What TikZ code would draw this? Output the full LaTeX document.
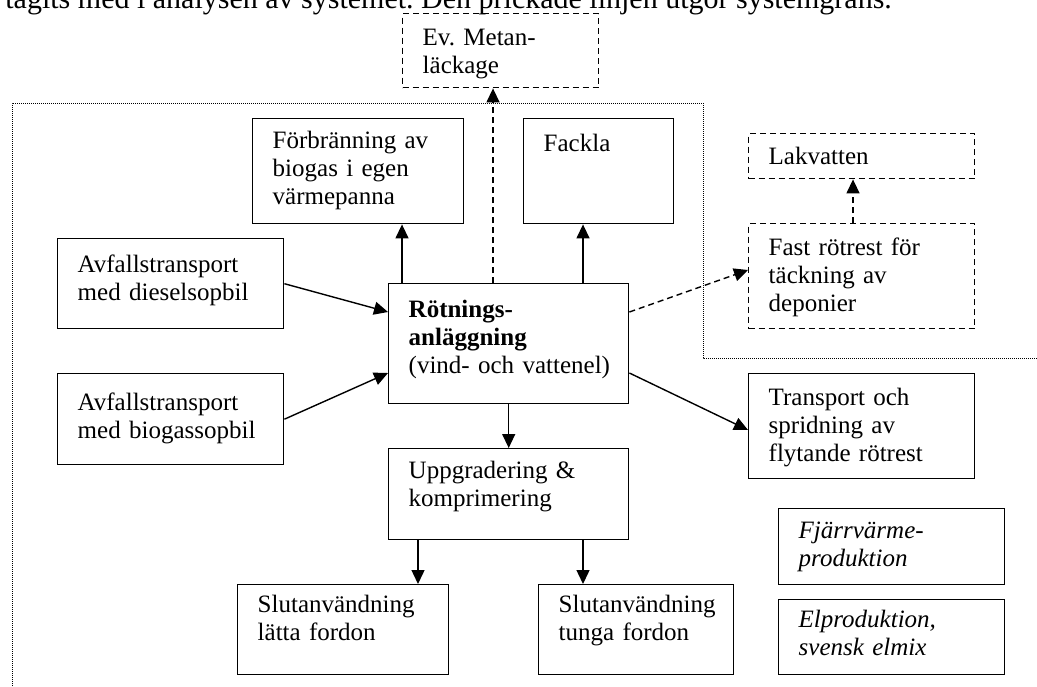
\documentclass[tikz,border=0pt]{standalone}
\usepackage{fontspec}
\setmainfont{Liberation Serif}
\usetikzlibrary{arrows.meta}
\frenchspacing
\tikzset{
  box/.style={draw, line width=0.7pt, anchor=north west, align=left,
    inner xsep=10pt, inner ysep=0pt, text height=15pt,
    font=\fontsize{12.5}{14}\selectfont},
  dbox/.style={box, dash pattern=on 3pt off 2pt},
  pil/.style={-{Triangle[length=7pt,width=6.5pt]}, line width=0.7pt},
  dpil/.style={pil, dash pattern=on 3pt off 2pt},
}
\begin{document}
\begin{tikzpicture}[x=0.5pt,y=-0.5pt]
  \useasboundingbox (0,0) rectangle (1037,686);
  \clip (0,0) rectangle (1037,686);
  \node[anchor=base west, inner sep=0, font=\fontsize{15}{18}\selectfont] (rubrik) at (5,8)
    {tagits med i analysen av systemet. Den prickade linjen utgör systemgräns.};
  \draw[line width=0.5pt, dash pattern=on 0.5pt off 0.5pt]
    (12,690) -- (12,103) -- (703,103) -- (703,358) -- (1040,358);

  \node[dbox, text width=78pt, text height=16pt, text depth=21pt] (metan) at (402,13) {Ev. Metan-\\läckage};
  \node[box, text width=85.5pt, text depth=37.5pt] (forbr) at (252,118) {Förbränning av\\biogas i egen\\värmepanna};
  \node[box, text width=55pt, text height=16.5pt, text depth=36pt] (fackla) at (523,118) {Fackla};
  \node[dbox, text width=93pt, text height=15.5pt, text depth=7pt] (lak) at (748,133) {Lakvatten};
  \node[box, text width=93pt, text height=17pt, text depth=28pt] (diesel) at (57,238) {Avfallstransport\\med dieselsopbil};
  \node[box, text width=100pt, text height=17pt, text depth=43pt] (rot) at (388,283)
    {\textbf{Rötnings-}\\\textbf{anläggning}\\\mbox{(vind- och vattenel)}};
  \node[dbox, text width=93pt, text height=16pt, text depth=36.5pt] (fast) at (748,223) {Fast rötrest för\\täckning av\\deponier};
  \node[box, text width=93pt, text height=18.5pt, text depth=27pt] (biogas) at (57,373) {Avfallstransport\\med biogassopbil};
  \node[box, text width=93pt, text height=16pt, text depth=36.5pt] (transport) at (748,373) {Transport och\\spridning av\\flytande rötrest};
  \node[box, text width=100pt, text depth=30.5pt] (uppgr) at (388,448) {Uppgradering \&\\komprimering};
  \node[box, text width=93pt, text depth=23pt] (fjarr) at (778,508) {\itshape Fjärrvärme-\\produktion};
  \node[box, text width=85.5pt, text height=14pt, text depth=31pt] (latta) at (237,584) {Slutanvändning\\lätta fordon};
  \node[box, text width=77.5pt, text height=14pt, text depth=31pt] (tunga) at (538,584) {Slutanvändning\\tunga fordon};
  \node[box, text width=93pt, text height=14pt, text depth=23.5pt] (elprod) at (778,599) {\itshape Elproduktion,\\svensk elmix};

  \draw[pil] ([xshift=7pt]rot.north west) -- ([xshift=7pt]rot.north west |- forbr.south);
  \draw[dpil] ([xshift=52.5pt]rot.north west) -- ([xshift=52.5pt]rot.north west |- metan.south);
  \draw[pil] ([xshift=97.5pt]rot.north west) -- ([xshift=97.5pt]rot.north west |- fackla.south);
  \draw[pil] (diesel.east) -- ([yshift=-14.5pt]rot.north west);
  \draw[pil] (biogas.east) -- ([yshift=-45pt]rot.north west);
  \draw[dpil] ([yshift=-14.5pt]rot.north east) -- ([yshift=-23.5pt]fast.north west);
  \draw[pil] ([yshift=-45pt]rot.north east) -- ([yshift=-28.5pt]transport.north west);
  \draw[dpil] ([xshift=52.5pt]fast.north west) -- ([xshift=52.5pt]fast.north west |- lak.south);
  \draw[pil] (rot.south) -- (uppgr.north);
  \draw[pil] ([xshift=15pt]uppgr.south west) -- ([xshift=15pt]uppgr.south west |- latta.north);
  \draw[pil] ([xshift=97.5pt]uppgr.south west) -- ([xshift=97.5pt]uppgr.south west |- tunga.north);
\end{tikzpicture}
\end{document}
